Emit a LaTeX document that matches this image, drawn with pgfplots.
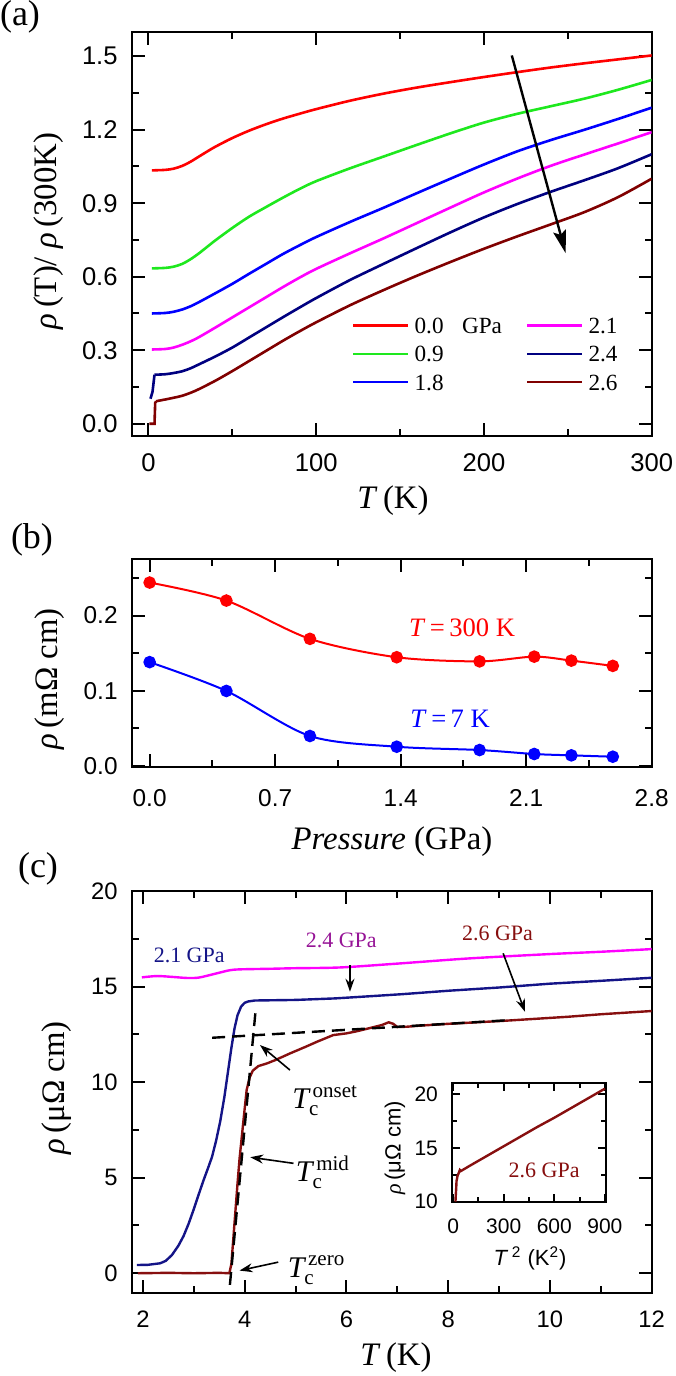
\documentclass[border=0pt]{standalone}
\usepackage{fontspec}
\setmainfont{Liberation Serif}
\setsansfont{Liberation Sans}
\usepackage{amsmath}
\usepackage{pgfplots}
\pgfplotsset{compat=1.18}
\usetikzlibrary{arrows.meta}
\newcommand{\fs}[1]{\fontsize{#1}{#1}\selectfont}
\definecolor{cRed}{RGB}{255,0,0}
\definecolor{cGreen}{RGB}{30,232,30}
\definecolor{cBlue}{RGB}{0,0,255}
\definecolor{cMag}{RGB}{255,0,255}
\definecolor{cNavy}{RGB}{0,0,128}
\definecolor{cBrown}{RGB}{128,0,0}
\definecolor{cNavyC}{RGB}{20,20,135}
\definecolor{cDarkRed}{RGB}{135,15,15}
\definecolor{cPurple}{RGB}{150,20,150}
\pgfplotsset{myax/.style={scale only axis, anchor=south west,
  axis line style={line width=1.1pt},
  tick style={line width=1pt, black},
  major tick length=6.5pt, minor tick length=3.5pt, tick align=inside,
  /pgf/number format/assume math mode=true, scaled ticks=false,
  xticklabel style={inner sep=0pt, anchor=north},
  yticklabel style={inner sep=0pt, anchor=east}}}
\begin{document}
\begin{tikzpicture}
\useasboundingbox (0pt,0pt) rectangle (337.5pt,688pt);

% ---------------- (a)
\begin{axis}[myax, at={(65.85pt,470pt)}, width=260pt, height=202.15pt,
  xmin=-10, xmax=300, ymin=-0.05, ymax=1.6,
  xtick={0,100,200,300}, minor xtick={50,150,250},
  ytick={0,0.3,0.6,0.9,1.2,1.5}, minor ytick={0.15,0.45,0.75,1.05,1.35},
  yticklabel style={/pgf/number format/fixed, /pgf/number format/fixed zerofill, /pgf/number format/precision=1, xshift=-6.85pt},
  xticklabel style={yshift=-8.6pt},
  tick label style={font=\fs{12.8}\sffamily},
  legend columns=3, transpose legend, legend cell align=left,
  legend image code/.code={\draw[#1, line width=1.3pt] (0pt,0pt) -- (27.5pt,0pt);},
  legend style={draw=none, fill=none, inner sep=0pt, outer sep=0pt,
    at={(axis description cs:0.4237,0.293)}, anchor=north west, font=\fs{11.6},
    nodes={inner sep=0pt, text height=8pt, text depth=0pt}, row sep=6.15pt,
    /tikz/every odd column/.append style={column sep=2.5pt},
    /tikz/every even column/.append style={column sep=12pt}},
  every axis plot/.append style={line width=1.3pt},
  ]
\addplot[cRed, smooth] coordinates {(2,1.034) (10,1.036) (15,1.041) (20,1.052) (25,1.069) (30,1.09) (35,1.111) (40,1.131) (50,1.166) (60,1.196) (70,1.222) (80,1.245) (90,1.265) (100,1.284) (120,1.318) (140,1.347) (160,1.372) (180,1.394) (200,1.415) (220,1.435) (240,1.454) (260,1.471) (280,1.487) (300,1.503)};
\addlegendentry{0.0\hspace{9.2pt}GPa}
\addplot[cGreen, smooth] coordinates {(2,0.634) (10,0.636) (15,0.641) (20,0.652) (25,0.671) (30,0.695) (35,0.722) (40,0.749) (50,0.799) (60,0.845) (70,0.884) (80,0.922) (90,0.958) (100,0.99) (120,1.042) (140,1.09) (160,1.138) (180,1.185) (200,1.229) (220,1.265) (240,1.296) (260,1.327) (280,1.363) (300,1.403)};
\addlegendentry{0.9}
\addplot[cBlue, smooth] coordinates {(2,0.45) (10,0.452) (15,0.457) (20,0.466) (25,0.479) (30,0.496) (40,0.533) (50,0.571) (60,0.612) (70,0.652) (80,0.692) (90,0.728) (100,0.762) (120,0.823) (140,0.881) (160,0.941) (180,1.0) (200,1.058) (220,1.112) (240,1.158) (260,1.2) (280,1.244) (300,1.29)};
\addlegendentry{1.8}
\addplot[cMag, smooth] coordinates {(2,0.303) (10,0.305) (15,0.311) (20,0.322) (25,0.336) (30,0.353) (40,0.393) (50,0.434) (60,0.475) (70,0.516) (80,0.557) (90,0.596) (100,0.632) (120,0.695) (140,0.756) (160,0.819) (180,0.882) (200,0.944) (220,1.001) (240,1.053) (260,1.099) (280,1.144) (300,1.19)};
\addlegendentry{2.1}
\addplot[cNavy, smooth] coordinates {(3.6,0.2) (10,0.202) (15,0.207) (20,0.214) (25,0.226) (30,0.242) (40,0.275) (50,0.311) (60,0.352) (70,0.393) (80,0.434) (90,0.474) (100,0.513) (120,0.586) (140,0.652) (160,0.717) (180,0.781) (200,0.842) (220,0.897) (240,0.947) (260,0.994) (280,1.043) (300,1.1)};
\addlegendentry{2.4}
\addplot[cBrown, smooth] coordinates {(4.6,0.092) (10,0.099) (15,0.106) (20,0.114) (25,0.126) (30,0.141) (40,0.176) (50,0.215) (60,0.256) (70,0.297) (80,0.338) (90,0.377) (100,0.414) (120,0.483) (140,0.545) (160,0.604) (180,0.66) (200,0.714) (220,0.765) (240,0.814) (260,0.864) (280,0.925) (300,1.0)};
\addlegendentry{2.6}
\addplot[cNavy, forget plot] coordinates {(1.2,0.102) (2.4,0.13) (3.6,0.2)};
\addplot[cBrown, forget plot] coordinates {(0.6,0) (3.6,0) (4.0,0.085) (4.6,0.092)};
\draw[line width=1.2pt, -{Stealth[length=11.5pt, width=6.5pt, inset=2pt]}] (axis cs:216.6,1.503) -- (axis cs:248.7,0.696);
\end{axis}

% ---------------- (b)
\begin{axis}[myax, at={(65.85pt,304.65pt)}, width=260pt, height=103.7pt,
  xmin=-0.1, xmax=2.8, ymin=-0.0013, ymax=0.275,
  xtick={0,0.7,1.4,2.1,2.8}, minor xtick={0.35,1.05,1.75,2.45},
  ytick={0,0.1,0.2}, minor ytick={0.05,0.15,0.25},
  xticklabel style={/pgf/number format/fixed, /pgf/number format/fixed zerofill, /pgf/number format/precision=1, yshift=-11.4pt},
  yticklabel style={/pgf/number format/fixed, /pgf/number format/fixed zerofill, /pgf/number format/precision=1, xshift=-6.85pt},
  tick label style={font=\fs{12.2}\sffamily},
  ]
\addplot[cRed, line width=1pt, smooth, mark=*, mark size=2.65pt, mark options={fill=cRed, draw=cRed}] coordinates {(0,0.244) (0.428,0.220) (0.894,0.169) (1.378,0.1445) (1.840,0.139) (2.145,0.1453) (2.352,0.140) (2.583,0.133)};
\addplot[cBlue, line width=1pt, smooth, mark=*, mark size=2.65pt, mark options={fill=cBlue, draw=cBlue}] coordinates {(0,0.138) (0.428,0.0996) (0.894,0.0396) (1.378,0.0253) (1.840,0.0209) (2.145,0.0156) (2.352,0.0138) (2.583,0.012)};
\node[text=cRed, font=\fs{13.3}] at (axis cs:1.743,0.1836) {\textit{T}\,=\,300 K};
\node[text=cBlue, font=\fs{13.3}] at (axis cs:1.676,0.063) {\textit{T}\,=\,7 K};
\end{axis}

% ---------------- (c)
\begin{axis}[myax, at={(65.85pt,41.35pt)}, width=260pt, height=201.15pt,
  xmin=1.78, xmax=12, ymin=-1.05, ymax=20,
  xtick={2,4,6,8,10,12}, minor xtick={3,5,7,9,11},
  ytick={0,5,10,15,20}, minor ytick={2.5,7.5,12.5,17.5},
  xticklabel style={yshift=-8.6pt},
  yticklabel style={xshift=-6.85pt},
  tick label style={font=\fs{11.9}\sffamily},
  ]
\addplot[cMag, line width=1.2pt, smooth] coordinates {(1.98,15.48) (2.28,15.55) (2.6,15.5) (2.86,15.45) (3.1,15.47) (3.45,15.69) (3.7,15.85) (3.91,15.9) (4.5,15.93) (5.0,15.96) (5.88,16.0) (7,16.2) (8.4,16.47) (10,16.7) (11,16.82) (12,16.96)};
\addplot[cNavyC, line width=1.2pt] coordinates {(1.88,0.43) (2.1,0.44) (2.34,0.52) (2.45,0.65) (2.57,0.95) (2.7,1.45) (2.8,1.95) (2.9,2.6) (3.0,3.35) (3.1,4.15) (3.19,4.85) (3.28,5.5) (3.36,6.1) (3.44,6.95) (3.52,7.95) (3.6,9.2) (3.67,10.5) (3.74,11.8) (3.8,12.8) (3.86,13.5) (3.93,13.95) (4.0,14.15) (4.07,14.22) (4.2,14.27) (5,14.3) (5.78,14.38) (6.5,14.5) (7.09,14.6) (8,14.78) (9,14.95) (10,15.15) (11,15.3) (12,15.46)};
\addplot[cDarkRed, line width=1.2pt] coordinates {(1.9,0) (2.5,0.02) (3.0,0) (3.5,0.02) (3.70,0) (3.74,0.5) (3.78,1.9) (3.82,3.3) (3.86,4.7) (3.9,6.0) (3.95,7.3) (4.0,8.6) (4.04,9.6) (4.1,10.25) (4.16,10.6) (4.27,10.84) (4.44,10.98) (4.6,11.15) (4.89,11.5) (5.2,11.85) (5.42,12.11) (5.74,12.46) (6.0,12.55) (6.17,12.64) (6.45,12.82) (6.70,12.99) (6.83,13.13) (6.92,13.05) (7.0,12.88) (7.2,12.9) (7.42,12.95) (8,13.05) (9.05,13.2) (10.36,13.42) (11,13.55) (12,13.72)};
\addplot[black, line width=1.2pt, dash pattern=on 6.5pt off 3.5pt] coordinates {(3.36,12.32) (9.25,13.25)};
\addplot[black, line width=1.2pt, dash pattern=on 6.5pt off 3.5pt] coordinates {(3.71,-0.61) (4.21,13.6)};
\draw[line width=0.8pt, -{Stealth[length=6.5pt, width=4.5pt]}] (axis cs:6.07,16.12) -- (axis cs:6.07,14.73);
\draw[line width=0.8pt, -{Stealth[length=6.5pt, width=4.5pt]}] (axis cs:9.08,16.74) -- (axis cs:9.51,13.68);
\draw[line width=0.8pt, -{Stealth[length=6.5pt, width=4.5pt]}] (axis cs:4.89,10.63) -- (axis cs:4.3,11.94);
\draw[line width=0.8pt, -{Stealth[length=6.5pt, width=4.5pt]}] (axis cs:4.96,5.75) -- (axis cs:4.11,6.07);
\draw[line width=0.8pt, -{Stealth[length=6.5pt, width=4.5pt]}] (axis cs:4.66,0.58) -- (axis cs:3.9,0.14);
\node[text=cNavyC, font=\fs{11}] at (axis cs:2.91,16.65) {2.1 GPa};
\node[text=cPurple, font=\fs{11}] at (axis cs:5.9,17.43) {2.4 GPa};
\node[text=cDarkRed, font=\fs{11}] at (axis cs:8.97,17.78) {2.6 GPa};
\node[anchor=base west, inner sep=0pt, font=\fs{15}] at (axis cs:4.93,8.6) {$\textit{T}_{\text{c}}^{\,\text{onset}}$};
\node[anchor=base west, inner sep=0pt, font=\fs{15}] at (axis cs:5.0,4.8) {$\textit{T}_{\text{c}}^{\,\text{mid}}$};
\node[anchor=base west, inner sep=0pt, font=\fs{15}] at (axis cs:4.84,-0.2) {$\textit{T}_{\text{c}}^{\,\text{zero}}$};
\end{axis}

% ---------------- inset
\begin{axis}[myax, at={(226.15pt,87.15pt)}, width=76.7pt, height=59.2pt,
  axis line style={line width=1pt},
  major tick length=4pt, minor tick length=2.5pt,
  xmin=-5, xmax=905, ymin=10, ymax=21,
  xtick={0,300,600,900}, minor xtick={150,450,750},
  ytick={10,15,20}, minor ytick={12.5,17.5},
  xticklabel style={yshift=-8.4pt},
  yticklabel style={xshift=-7pt},
  tick label style={font=\fs{10.5}\sffamily},
  ]
\addplot[cDarkRed, line width=1.2pt] coordinates {(13.7,10) (16,10.7) (18,11.2) (20,11.9) (26,12.4) (34,12.7) (40,12.95) (46,12.85) (100,13.35) (200,14.25) (300,15.15) (400,16.05) (500,16.95) (600,17.8) (700,18.7) (800,19.6) (900,20.5)};
\node[text=cDarkRed, font=\fs{11}] at (axis cs:540,12.9) {2.6 GPa};
\end{axis}

% ---------------- labels (pixel coordinates)
\begin{scope}[x=0.5pt, y=-0.5pt, yshift=688pt]
\node[font=\fs{18}, inner sep=0pt] at (20,17) {(a)};
\node[font=\fs{16.4}, rotate=90] at (49,231) {\textit{ρ}\,(T)/ \textit{ρ}\,(300K)};
\node[font=\fs{16.4}] at (393,501) {\textit{T}\,(K)};
\node[font=\fs{18}, inner sep=0pt] at (32,540) {(b)};
\node[font=\fs{16.4}, rotate=90] at (50,679) {\textit{ρ}\,(mΩ cm)};
\node[font=\fs{16.4}] at (392,842) {\textit{Pressure} (GPa)};
\node[font=\fs{18}, inner sep=0pt] at (38,869) {(c)};
\node[font=\fs{16.4}, rotate=90] at (57,1088) {\textit{ρ}\,(μΩ cm)};
\node[font=\fs{16.4}] at (396,1358) {\textit{T}\,(K)};
\node[font=\fs{11}, rotate=90] at (395,1148) {\textit{ρ}\,{\sffamily(μΩ cm)}};
\node[font=\fs{11}\sffamily] at (530,1258) {\textit{T}\,\textsuperscript{2} (K\textsuperscript{2})};
\end{scope}
\end{tikzpicture}
\end{document}
